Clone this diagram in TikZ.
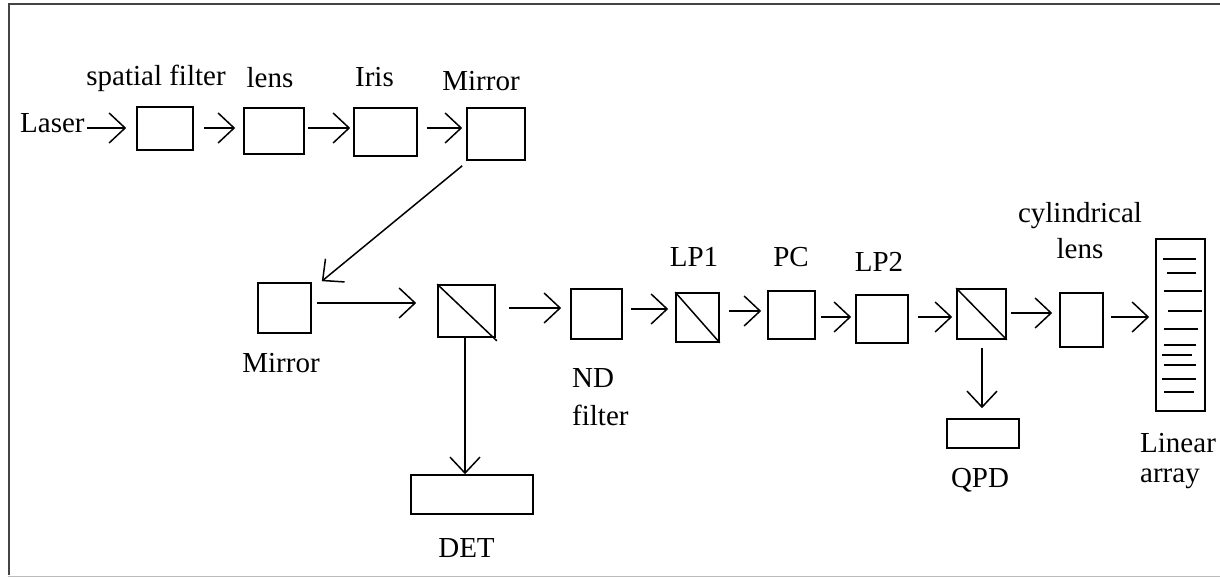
\documentclass[tikz,border=0pt]{standalone}
\usepackage{fontspec}
\setmainfont{Liberation Serif}
\usetikzlibrary{calc,arrows.meta}
\definecolor{framedark}{HTML}{444444}
\definecolor{framelight}{HTML}{BBBBBB}
\tikzset{
  box/.style={draw, line width=1.6pt, inner sep=0pt, rectangle},
  arr/.style={line width=1.5pt, -{Straight Barb[length=16pt,width=30pt,line width=1.5pt]}},
  lbl/.style={inner sep=0pt, font=\fontsize{29}{34}\selectfont},
  split/.style={line width=1.5pt},
  pix/.style={line width=1.6pt},
}
\begin{document}
\begin{tikzpicture}[x=1pt,y=-1pt]
\useasboundingbox (0,0) rectangle (1220,577);
% frame
\draw[framelight, line width=1pt] (8,576) -- (1220,576);
\draw[framedark, line width=2pt] (8,4) -- (1220,4);
\draw[framedark, line width=2.5pt] (9,4) -- (9,575);

% boxes
\node[box, minimum width=56pt, minimum height=43pt] (sf)   at (165,128.5) {};
\node[box, minimum width=60pt, minimum height=46pt] (lens) at (274,131) {};
\node[box, minimum width=63pt, minimum height=48pt] (iris) at (385.5,132) {};
\node[box, minimum width=58pt, minimum height=52pt] (m1)   at (496,134) {};
\node[box, minimum width=53pt, minimum height=50pt] (m2)   at (284.5,308) {};
\node[box, minimum width=57pt, minimum height=52pt] (bs1)  at (466.5,311) {};
\node[box, minimum width=122pt, minimum height=39pt] (det) at (472,494.5) {};
\node[box, minimum width=51pt, minimum height=50pt] (nd)   at (596.5,314) {};
\node[box, minimum width=43pt, minimum height=49pt] (lp1)  at (697.5,317.5) {};
\node[box, minimum width=47pt, minimum height=48pt] (pc)   at (791.5,315) {};
\node[box, minimum width=52pt, minimum height=48pt] (lp2)  at (882,319) {};
\node[box, minimum width=49pt, minimum height=50pt] (bs2)  at (981.5,314) {};
\node[box, minimum width=72pt, minimum height=29pt] (qpd)  at (983,433.5) {};
\node[box, minimum width=43pt, minimum height=54pt] (cyl)  at (1081.5,320) {};
\node[box, minimum width=49pt, minimum height=172pt] (la)  at (1180.5,325) {};

% splitter diagonals
\draw[split] (bs1.north west) -- ($(bs1.south east)+(1,3)$);
\draw[split] (lp1.north west) -- (lp1.south east);
\draw[split] (bs2.north west) -- (bs2.south east);

% linear array elements
\foreach \ya/\xa/\xb in {259/1163/1196, 273/1167/1196, 291/1164/1202, 311/1168/1202, 329/1164/1198, 345/1164/1196, 355/1162/1192, 365/1164/1196, 379/1162/1196, 392/1164/1194}
  \draw[pix] (\xa,\ya) -- (\xb,\ya);

% labels
\node[lbl, anchor=base west] (laser) at (20,133) {Laser};
\node[lbl, anchor=base] (sflbl)   at (156,86) {spatial filter};
\node[lbl, anchor=base] (lenslbl) at (270,88) {lens};
\node[lbl, anchor=base] (irislbl) at (374.5,87) {Iris};
\node[lbl, anchor=base] (m1lbl)   at (481,91) {Mirror};
\node[lbl, anchor=base] (m2lbl)   at (281,372) {Mirror};
\node[lbl, anchor=base] (detlbl)  at (466.5,557) {DET};
\node[lbl, anchor=north west, align=left, font=\fontsize{29}{38}\selectfont] (ndlbl) at (572,368) {ND\\filter};
\node[lbl, anchor=base] (lp1lbl)  at (694,267) {LP1};
\node[lbl, anchor=base] (pclbl)   at (791,267) {PC};
\node[lbl, anchor=base] (lp2lbl)  at (879,272) {LP2};
\node[lbl, anchor=base] (qpdlbl)  at (980,487) {QPD};
\node[lbl, anchor=north, align=center, font=\fontsize{29}{36}\selectfont] (cyllbl) at (1080,202) {cylindrical\\lens};
\node[lbl, anchor=north west, align=left, font=\fontsize{29}{30}\selectfont] (lalbl) at (1140,433) {Linear\\array};

% connectors
\draw[arr] ($(laser.base east)+(2,-5)$) -- ($(sf.west |- laser.base east)+(-10,-5)$);
\draw[arr] ($(sf.east)+(10,-0.5)$) -- ($(lens.west |- sf.east)+(-8,-0.5)$);
\draw[arr] ($(lens.east)+(3,-3)$) -- ($(iris.west |- lens.east)+(-3,-3)$);
\draw[arr] ($(iris.east)+(9,-4)$) -- ($(m1.west |- iris.east)+(-4,-4)$);
\draw[arr] ($(m1.south west)+(-4,5)$) -- ($(m2.north east)+(10,-1)$);
\draw[arr] ($(m2.east)+(5,-5)$) -- ($(bs1.west |- m2.east)+(-21,-5)$);
\draw[arr] ($(bs1.south)+(-1.5,0)$) -- ($(bs1.south |- det.north)+(-1.5,0)$);
\draw[arr] ($(bs1.east)+(13,-3)$) -- ($(nd.west |- bs1.east)+(-9,-3)$);
\draw[arr] ($(nd.east)+(8,-5)$) -- ($(lp1.west |- nd.east)+(-7,-5)$);
\draw[arr] ($(lp1.east)+(9,-6.5)$) -- ($(pc.west |- lp1.east)+(-6,-6.5)$);
\draw[arr] ($(pc.east)+(5,2)$) -- ($(lp2.west |- pc.east)+(-4,2)$);
\draw[arr] ($(lp2.east)+(9,-2)$) -- ($(bs2.west |- lp2.east)+(-4,-2)$);
\draw[arr] ($(bs2.south)+(0.5,8)$) -- ($(bs2.south |- qpd.north)+(0.5,-10)$);
\draw[arr] ($(bs2.east)+(4,-1)$) -- ($(cyl.west |- bs2.east)+(-7,-1)$);
\draw[arr] ($(cyl.east)+(7,-3)$) -- ($(la.west |- cyl.east)+(-6,-3)$);
\end{tikzpicture}
\end{document}
